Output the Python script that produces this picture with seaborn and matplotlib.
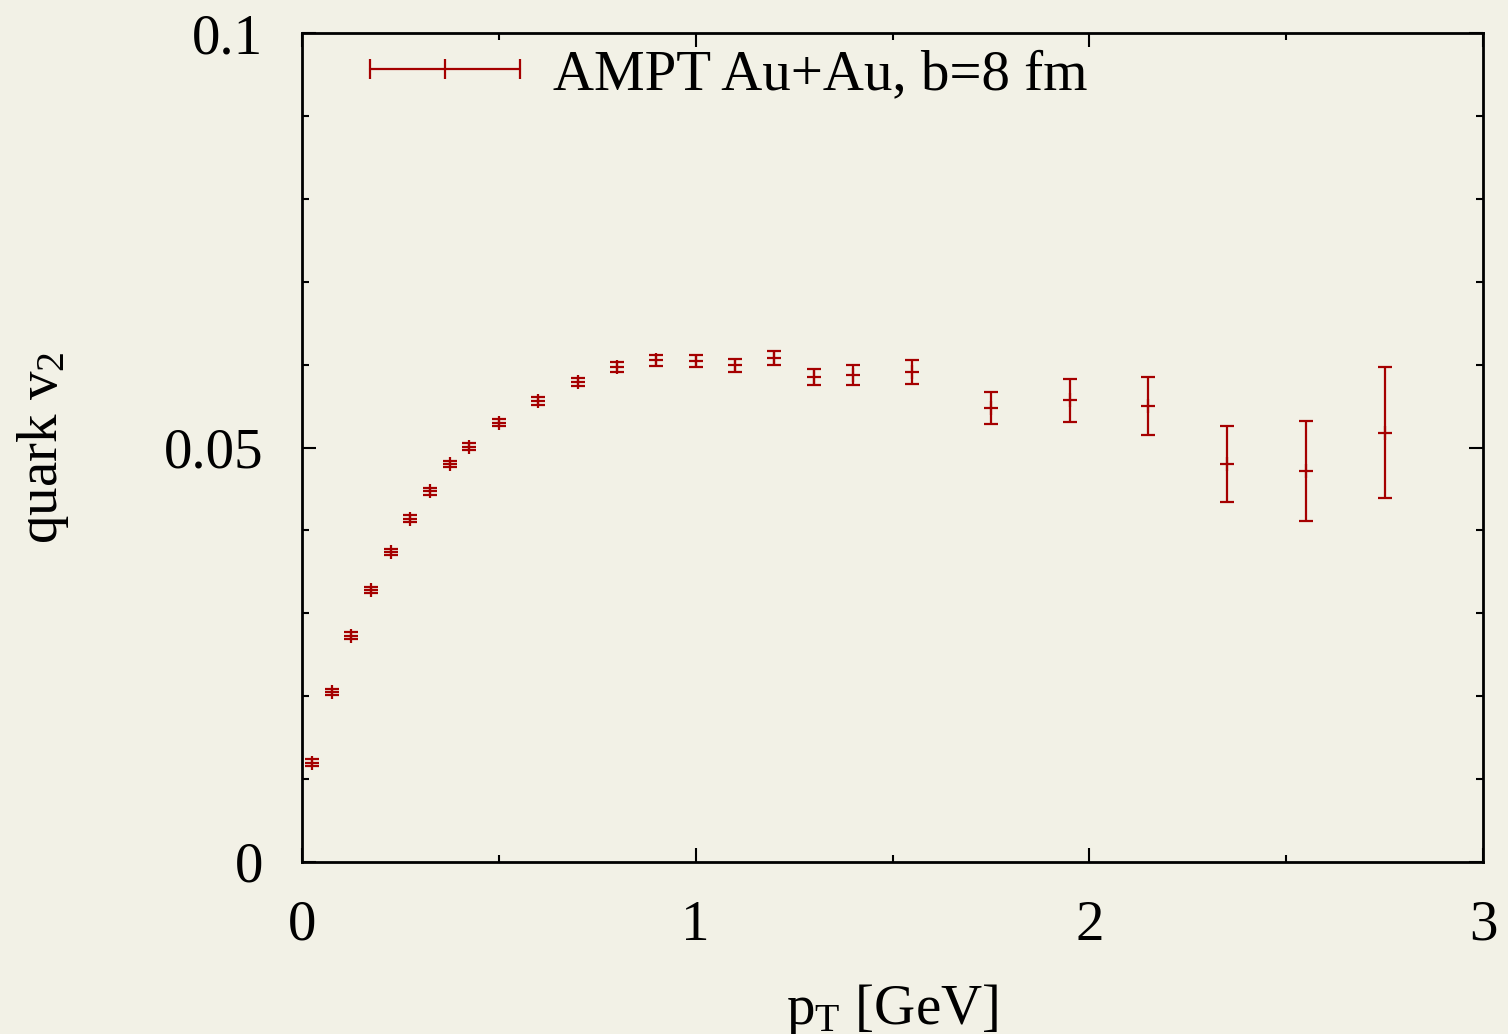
import matplotlib
matplotlib.use('Agg')
import matplotlib.pyplot as plt
import seaborn as sns
import numpy as np
import pandas as pd
from matplotlib.lines import Line2D
from matplotlib.legend_handler import HandlerLine2D
from matplotlib.ticker import MultipleLocator, FixedLocator, FixedFormatter

# ---- data ----
pt = [0.025, 0.075, 0.125, 0.175, 0.225, 0.275, 0.325, 0.375, 0.425, 0.5,
      0.6, 0.7, 0.8, 0.9, 1.0, 1.1, 1.2, 1.3, 1.4, 1.55,
      1.75, 1.95, 2.15, 2.35, 2.55, 2.75]
v2 = [0.0120, 0.0205, 0.0273, 0.0328, 0.0374, 0.0414, 0.0447, 0.0480, 0.0501, 0.0530,
      0.0556, 0.0579, 0.0597, 0.0605, 0.0604, 0.0599, 0.0608, 0.0585, 0.0587, 0.0591,
      0.0548, 0.0557, 0.0550, 0.0480, 0.0472, 0.0518]
v2_err = [0.0004, 0.0004, 0.0004, 0.0004, 0.0004, 0.0004, 0.0004, 0.0004, 0.0004, 0.00045,
          0.0005, 0.0005, 0.0006, 0.00066, 0.0007, 0.00078, 0.00088, 0.0010, 0.0012, 0.00145,
          0.00195, 0.0026, 0.00346, 0.0046, 0.00605, 0.0079]
x_ticks = [0, 1, 2, 3]
x_ticklabels = ['0', '1', '2', '3']
y_ticks = [0, 0.05, 0.1]
y_ticklabels = ['0', '0.05', '0.1']
legend_label = 'AMPT Au+Au, b=8 fm'

red = '#A50000'
bg = '#F2F1E6'

sns.set_theme(style='ticks')
plt.rcParams.update({
    'font.family': ['Liberation Serif', 'DejaVu Serif'],
    'mathtext.fontset': 'custom',
    'mathtext.rm': 'Liberation Serif',
    'mathtext.it': 'Liberation Serif:italic',
    'mathtext.bf': 'Liberation Serif:bold',
    'figure.facecolor': bg,
    'axes.facecolor': bg,
    'savefig.facecolor': bg,
    'text.color': 'black',
    'axes.labelcolor': 'black',
    'xtick.color': 'black',
    'ytick.color': 'black',
})

W, H = 1508, 1034
fig = plt.figure(figsize=(W / 100, H / 100), dpi=100)
ax = fig.add_axes([302 / W, 1 - 862 / H, (1483 - 302) / W, (862 - 33) / H])

df = pd.DataFrame({'pT': pt, 'v2': v2, 'err': v2_err})

ax.errorbar(df['pT'], df['v2'], yerr=df['err'], fmt='none', ecolor=red,
            elinewidth=1.6, capsize=5, capthick=1.6, zorder=2)
sns.scatterplot(data=df, x='pT', y='v2', marker='+', s=110, color=red,
                linewidth=1.6, ax=ax, legend=False, zorder=3)

ax.set_xlim(0, 3)
ax.set_ylim(0, 0.1)
ax.xaxis.set_major_locator(FixedLocator(x_ticks))
ax.xaxis.set_major_formatter(FixedFormatter(x_ticklabels))
ax.xaxis.set_minor_locator(MultipleLocator(0.5))
ax.yaxis.set_major_locator(FixedLocator(y_ticks))
ax.yaxis.set_major_formatter(FixedFormatter(y_ticklabels))
ax.yaxis.set_minor_locator(MultipleLocator(0.01))

ax.tick_params(which='both', direction='in', top=True, right=True,
               colors='black', labelcolor='black', width=1.5)
ax.tick_params(which='major', length=10)
ax.tick_params(which='minor', length=5)
ax.tick_params(axis='x', which='major', labelsize=41, pad=27)
ax.tick_params(axis='y', which='major', labelsize=41, pad=28)

for sp in ax.spines.values():
    sp.set_visible(True)
    sp.set_linewidth(2)
    sp.set_color('black')

ax.set_xlabel(r'p$_\mathrm{T}$ [GeV]', fontsize=41, color='black')
ax.set_ylabel(r'quark v$_\mathrm{2}$', fontsize=41, color='black')
ax.xaxis.set_label_coords(0.5, -0.145)
ax.yaxis.set_label_coords(-0.196, 0.5)

proxy = Line2D([0], [0], color=red, lw=1.6, marker='|', markersize=15,
               markeredgewidth=1.6)
fs = 41
fpx = fs * 100 / 72
leg = ax.legend([proxy], [legend_label], loc='center left',
                bbox_to_anchor=((370 - 302) / 1181, 1 - (75 - 33) / 829),
                frameon=False, fontsize=fs, handlelength=150 / fpx,
                handletextpad=33 / fpx, borderpad=0, borderaxespad=0,
                handler_map={proxy: HandlerLine2D(marker_pad=0, numpoints=3)})
for t in leg.get_texts():
    t.set_color('black')

fig.savefig('out.png', dpi=100)
